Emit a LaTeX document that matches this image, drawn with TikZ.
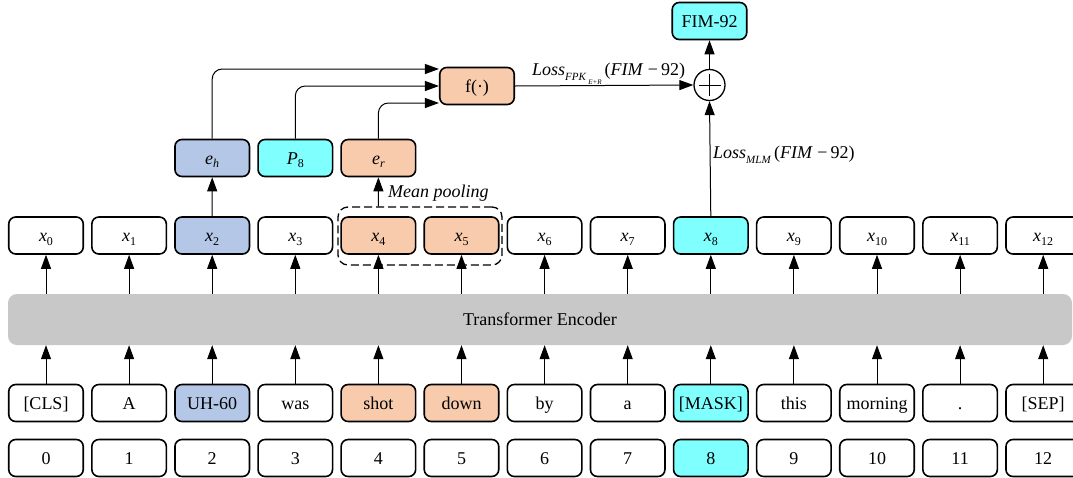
\documentclass[tikz,border=0pt]{standalone}
\usepackage{fontspec}
\setmainfont{Liberation Serif}
\usetikzlibrary{arrows.meta,calc}
\definecolor{cblue}{HTML}{B4C7E7}
\definecolor{ccyan}{HTML}{80FFFF}
\definecolor{corange}{HTML}{F8CBAD}
\definecolor{cgray}{HTML}{C8C8C8}
\newcommand{\xsub}[2]{\textit{#1}\raisebox{-0.22em}{\fontsize{12}{12}\selectfont #2}}
\newcommand{\lsub}[1]{\raisebox{-0.3em}{\fontsize{11}{11}\selectfont #1}}
\begin{document}
\begin{tikzpicture}[x=1pt,y=-1pt,
  box/.style={draw, line width=1.6pt, rounded corners=7pt, minimum width=74.5pt, minimum height=37pt, inner sep=0pt, text height=12pt, text depth=0pt, font=\fontsize{18}{20}\selectfont},
  arr/.style={-{Triangle[length=14pt,width=10pt]}, line width=1pt},
  lbl/.style={inner sep=0pt, font=\fontsize{18}{20}\selectfont}]
\useasboundingbox (0,0) rectangle (1073,477);
% encoder
\node[fill=cgray, rounded corners=9pt, minimum width=1064pt, minimum height=51pt, inner sep=0pt, font=\fontsize{18}{20}\selectfont] (enc) at (540,319.5) {Transformer Encoder};
% token rows
\foreach \i/\tok/\c in {0/{[CLS]}/white,1/A/white,2/UH-60/cblue,3/was/white,4/shot/corange,5/down/corange,6/by/white,7/a/white,8/{[MASK]}/ccyan,9/this/white,10/morning/white,11/./white,12/{[SEP]}/white}{
  \node[box, fill=\c] (t\i) at ({46+83.1*\i},403) {\tok};
}
\foreach \i/\c in {0/white,1/white,2/white,3/white,4/white,5/white,6/white,7/white,8/ccyan,9/white,10/white,11/white,12/white}{
  \node[box, fill=\c] (n\i) at ({46+83.1*\i},458) {\i};
}
\foreach \i/\c in {0/white,1/white,2/cblue,3/white,4/corange,5/corange,6/white,7/white,8/ccyan,9/white,10/white,11/white,12/white}{
  \node[box, fill=\c] (x\i) at ({46+83.1*\i},235.5) {\xsub{x}{\i}};
  \draw[arr] (t\i.north) -- (t\i.north |- enc.south);
  \draw[arr] (x\i.south |- enc.north) -- (x\i.south);
}
% pooling box
\node[draw, dashed, dash pattern=on 8pt off 4pt, rounded corners=10pt, line width=1.3pt, minimum width=164pt, minimum height=58pt, inner sep=0pt] (pool) at (420,236) {};
\node[lbl, anchor=base west] (mp) at (388,197) {\textit{Mean pooling}};
% embedding row
\node[box, fill=cblue] (eh) at (212.2,158) {\textit{e}\raisebox{-0.22em}{\fontsize{12}{12}\selectfont\textit{h}}};
\node[box, fill=ccyan] (p8) at (295.3,158) {\xsub{P}{8}};
\node[box, fill=corange] (er) at (378.4,158) {\textit{e}\raisebox{-0.22em}{\fontsize{12}{12}\selectfont\textit{r}}};
\draw[arr] (x2.north) -- (eh.south);
\draw[arr] (x4.north |- pool.north) -- (er.south);
% f box
\node[box, fill=corange] (f) at (477,86) {f(·)};
\draw[arr, rounded corners=10pt] (eh.north) |- ($(f.west)+(0,-17)$);
\draw[arr, rounded corners=10pt] (p8.north) |- (f.west);
\draw[arr, rounded corners=10pt] (er.north) |- ($(f.west)+(0,17)$);
% plus and output
\node[draw, circle, minimum size=31pt, inner sep=0pt, line width=1.3pt] (plus) at (709.5,85) {};
\draw[line width=1pt] ($(plus.center)+(-11,0)$) -- ($(plus.center)+(11,0)$);
\draw[line width=1pt] ($(plus.center)+(0,-11)$) -- ($(plus.center)+(0,11)$);
\node[box, fill=ccyan] (fim) at (709.5,21) {FIM-92};
\draw[arr] (f.east) -- (plus.west);
\draw[arr] (x8.north) -- (plus.south);
\draw[arr] (plus.north) -- (fim.south);
\node[lbl, anchor=base west] (lfpk) at (532,75) {\textit{Loss}\lsub{\textit{FPK}\,\raisebox{-0.35em}{\fontsize{7}{7}\selectfont\textit{E+R}}}\,(\textit{FIM}\ −\,92)};
\node[lbl, anchor=base west] (lmlm) at (713,158) {\textit{Loss}\lsub{\textit{MLM}}\,(\textit{FIM}\ −\,92)};
\end{tikzpicture}
\end{document}
